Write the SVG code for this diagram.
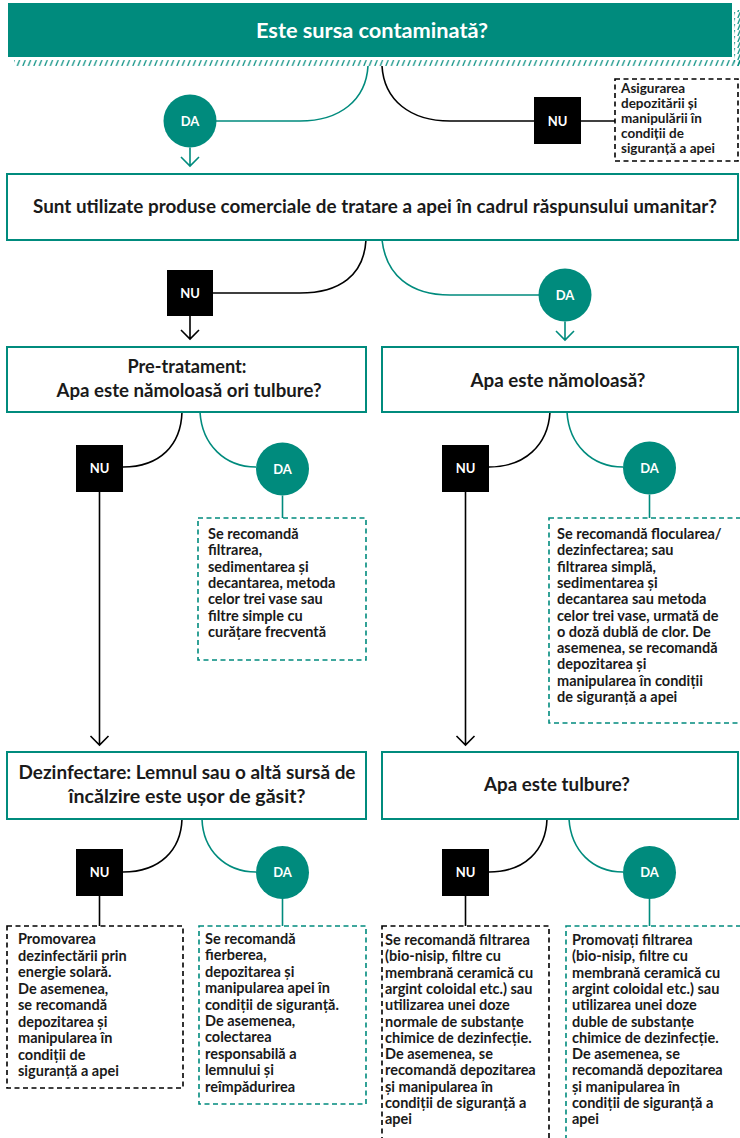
<svg xmlns="http://www.w3.org/2000/svg" width="740" height="1138" viewBox="0 0 740 1138">
  <style>
    .q { fill: #ffffff; stroke: #008b7d; stroke-width: 2; }
    .qt { font-family: Lato, "Liberation Sans", sans-serif; font-weight: 700; font-size: 18px; fill: #1a1a1a; text-anchor: middle; }
    .bt { font-family: Lato, "Liberation Sans", sans-serif; font-weight: 700; font-size: 14.5px; fill: #1a1a1a; }
    .bs { font-size: 13.5px; }
    .lbl { font-family: Lato, "Liberation Sans", sans-serif; font-weight: 700; font-size: 13px; fill: #ffffff; text-anchor: middle; }
    .nu { fill: #000000; }
    .da { fill: #008b7d; }
    .lk { fill: none; stroke: #000000; stroke-width: 1.6; }
    .lt { fill: none; stroke: #008b7d; stroke-width: 1.6; }
    .dk { fill: #ffffff; stroke: #000000; stroke-width: 1.6; stroke-dasharray: 5 3.5; }
    .dt { fill: #ffffff; stroke: #008b7d; stroke-width: 1.6; stroke-dasharray: 5 3.5; }
  </style>
  <defs>
    <pattern id="hatch" patternUnits="userSpaceOnUse" width="5.5" height="6">
      <line x1="0.8" y1="6" x2="3.2" y2="0" stroke="#008b7d" stroke-width="1.2"/>
    </pattern>
  </defs>

  <rect width="740" height="1138" fill="#ffffff"/>

  <!-- connectors -->
  <g id="connectors">
    <!-- header -->
    <path class="lt" d="M368,66 C366,100 340,121 300,121 L216,121"/>
    <path class="lt" d="M190,147.5 L190,166 M181,157 L190,166 L199,157"/>
    <path class="lk" d="M382,66 C384,100 410,121 450,121 L534,121"/>
    <path class="lk" d="M581,121 L615,121"/>
    <!-- commercial products question -->
    <path class="lk" d="M366,240 C364,275 340,293 300,293 L213,293"/>
    <path class="lk" d="M190,316 L190,339 M181,330 L190,339 L199,330"/>
    <path class="lt" d="M382,240 C386,275 410,295 450,295 L539,295"/>
    <path class="lt" d="M565,321.5 L565,340 M556,331 L565,340 L574,331"/>
    <!-- pre-treatment -->
    <path class="lk" d="M182,412 C181,445 160,467 123,467"/>
    <path class="lk" d="M99.5,492 L99.5,745 M90.5,736 L99.5,745 L108.5,736"/>
    <path class="lt" d="M200,412 C202,445 225,467 256,467"/>
    <path class="lt" d="M282.5,495.5 L282.5,518"/>
    <!-- muddy water -->
    <path class="lk" d="M550,412 C548,445 525,467 489,467"/>
    <path class="lk" d="M465.5,492 L465.5,745 M456.5,736 L465.5,745 L474.5,736"/>
    <path class="lt" d="M567,412 C569,445 592,467 623,467"/>
    <path class="lt" d="M649.5,494.5 L649.5,518"/>
    <!-- disinfection -->
    <path class="lk" d="M182,819 C181,850 160,872 123,872"/>
    <path class="lk" d="M99.5,896 L99.5,926"/>
    <path class="lt" d="M202,819 C203,850 225,872 256,872"/>
    <path class="lt" d="M282.5,899 L282.5,926"/>
    <!-- turbid water -->
    <path class="lk" d="M547,819 C546,850 525,872 489,872"/>
    <path class="lk" d="M465.5,896 L465.5,926"/>
    <path class="lt" d="M569,819 C571,850 592,872 623,872"/>
    <path class="lt" d="M649.5,899 L649.5,926"/>
  </g>

  <!-- header question -->
  <g id="q-source">
    <rect x="14" y="60" width="726" height="6" fill="url(#hatch)"/>
    <rect x="734" y="10" width="6" height="56" fill="url(#hatch)"/>
    <rect x="8" y="3" width="724" height="54" fill="#008b7d"/>
    <text x="372" y="38" class="qt" style="fill:#ffffff;font-size:21px" textLength="232" lengthAdjust="spacingAndGlyphs">Este sursa contaminată?</text>
  </g>

  <g id="da-source"><circle class="da" cx="190" cy="121" r="26.5"/><text class="lbl" x="190" y="125.5">DA</text></g>
  <g id="nu-source"><rect class="nu" x="534" y="97" width="47" height="47"/><text class="lbl" x="557.5" y="125.5">NU</text></g>
  <g id="r-safe-storage">
    <rect class="dk" x="615" y="79" width="123" height="82"/>
    <text class="bt bs" x="621" y="93">Asigurarea</text>
    <text class="bt bs" x="621" y="108">depozitării și</text>
    <text class="bt bs" x="621" y="123">manipulării în</text>
    <text class="bt bs" x="621" y="138">condiții de</text>
    <text class="bt bs" x="621" y="153">siguranță a apei</text>
  </g>

  <g id="q-commercial">
    <rect class="q" x="7" y="174" width="731" height="66"/>
    <text class="qt" x="375" y="213" textLength="684" lengthAdjust="spacingAndGlyphs">Sunt utilizate produse comerciale de tratare a apei în cadrul răspunsului umanitar?</text>
  </g>
  <g id="nu-commercial"><rect class="nu" x="167" y="270" width="46" height="46"/><text class="lbl" x="190" y="297.5">NU</text></g>
  <g id="da-commercial"><circle class="da" cx="565" cy="295" r="26.5"/><text class="lbl" x="565" y="299.5">DA</text></g>

  <g id="q-pretreatment">
    <rect class="q" x="7" y="347" width="359" height="65"/>
    <text class="qt" x="187" y="373" textLength="119" lengthAdjust="spacingAndGlyphs">Pre-tratament:</text>
    <text class="qt" x="189" y="397" textLength="265" lengthAdjust="spacingAndGlyphs">Apa este nămoloasă ori tulbure?</text>
  </g>
  <g id="nu-pretreatment"><rect class="nu" x="76" y="445" width="47" height="47"/><text class="lbl" x="99.5" y="473">NU</text></g>
  <g id="da-pretreatment"><circle class="da" cx="282.5" cy="469" r="26.5"/><text class="lbl" x="282.5" y="473.5">DA</text></g>
  <g id="r-filtration">
    <rect class="dt" x="198" y="518" width="168" height="142"/>
    <text class="bt" x="208" y="539">Se recomandă</text>
    <text class="bt" x="208" y="555.3">filtrarea,</text>
    <text class="bt" x="208" y="571.6">sedimentarea și</text>
    <text class="bt" x="208" y="587.9">decantarea, metoda</text>
    <text class="bt" x="208" y="604.2">celor trei vase sau</text>
    <text class="bt" x="208" y="620.5">filtre simple cu</text>
    <text class="bt" x="208" y="636.8">curățare frecventă</text>
  </g>

  <g id="q-muddy">
    <rect class="q" x="382" y="347" width="356" height="65"/>
    <text class="qt" x="558" y="387" textLength="175" lengthAdjust="spacingAndGlyphs">Apa este nămoloasă?</text>
  </g>
  <g id="nu-muddy"><rect class="nu" x="442" y="445" width="47" height="47"/><text class="lbl" x="465.5" y="473">NU</text></g>
  <g id="da-muddy"><circle class="da" cx="649.5" cy="468" r="26.5"/><text class="lbl" x="649.5" y="472.5">DA</text></g>
  <g id="r-flocculation">
    <rect class="dt" x="549" y="518" width="200" height="205"/>
    <text class="bt" x="557" y="539">Se recomandă flocularea/</text>
    <text class="bt" x="557" y="555.3">dezinfectarea; sau</text>
    <text class="bt" x="557" y="571.6">filtrarea simplă,</text>
    <text class="bt" x="557" y="587.9">sedimentarea și</text>
    <text class="bt" x="557" y="604.2">decantarea sau metoda</text>
    <text class="bt" x="557" y="620.5">celor trei vase, urmată de</text>
    <text class="bt" x="557" y="636.8">o doză dublă de clor. De</text>
    <text class="bt" x="557" y="653.1">asemenea, se recomandă</text>
    <text class="bt" x="557" y="669.4">depozitarea și</text>
    <text class="bt" x="557" y="685.7">manipularea în condiții</text>
    <text class="bt" x="557" y="702">de siguranță a apei</text>
  </g>

  <g id="q-disinfection">
    <rect class="q" x="7" y="752" width="359" height="67"/>
    <text class="qt" x="187" y="779" textLength="337" lengthAdjust="spacingAndGlyphs">Dezinfectare: Lemnul sau o altă sursă de</text>
    <text class="qt" x="187" y="803" textLength="237" lengthAdjust="spacingAndGlyphs">încălzire este ușor de găsit?</text>
  </g>
  <g id="nu-disinfection"><rect class="nu" x="76" y="849" width="47" height="47"/><text class="lbl" x="99.5" y="877">NU</text></g>
  <g id="da-disinfection"><circle class="da" cx="282.5" cy="872.5" r="26.5"/><text class="lbl" x="282.5" y="877">DA</text></g>
  <g id="r-solar">
    <rect class="dk" x="7" y="926" width="176" height="162"/>
    <text class="bt" x="18" y="944">Promovarea</text>
    <text class="bt" x="18" y="960.5">dezinfectării prin</text>
    <text class="bt" x="18" y="977">energie solară.</text>
    <text class="bt" x="18" y="993.5">De asemenea,</text>
    <text class="bt" x="18" y="1010">se recomandă</text>
    <text class="bt" x="18" y="1026.5">depozitarea și</text>
    <text class="bt" x="18" y="1043">manipularea în</text>
    <text class="bt" x="18" y="1059.5">condiții de</text>
    <text class="bt" x="18" y="1076">siguranță a apei</text>
  </g>
  <g id="r-boiling">
    <rect class="dt" x="199" y="926" width="167" height="178"/>
    <text class="bt" x="205" y="944">Se recomandă</text>
    <text class="bt" x="205" y="960.4">fierberea,</text>
    <text class="bt" x="205" y="976.8">depozitarea și</text>
    <text class="bt" x="205" y="993.2">manipularea apei în</text>
    <text class="bt" x="205" y="1009.6">condiții de siguranță.</text>
    <text class="bt" x="205" y="1026">De asemenea,</text>
    <text class="bt" x="205" y="1042.4">colectarea</text>
    <text class="bt" x="205" y="1058.8">responsabilă a</text>
    <text class="bt" x="205" y="1075.2">lemnului și</text>
    <text class="bt" x="205" y="1091.6">reîmpădurirea</text>
  </g>

  <g id="q-turbid">
    <rect class="q" x="382" y="752" width="356" height="67"/>
    <text class="qt" x="557" y="791" textLength="146" lengthAdjust="spacingAndGlyphs">Apa este tulbure?</text>
  </g>
  <g id="nu-turbid"><rect class="nu" x="442" y="849" width="47" height="47"/><text class="lbl" x="465.5" y="877">NU</text></g>
  <g id="da-turbid"><circle class="da" cx="649.5" cy="872.5" r="26.5"/><text class="lbl" x="649.5" y="877">DA</text></g>
  <g id="r-filter-normal">
    <rect class="dk" x="382" y="926" width="167" height="230"/>
    <text class="bt" x="385" y="945">Se recomandă filtrarea</text>
    <text class="bt" x="385" y="961.3">(bio-nisip, filtre cu</text>
    <text class="bt" x="385" y="977.6">membrană ceramică cu</text>
    <text class="bt" x="385" y="993.9">argint coloidal etc.) sau</text>
    <text class="bt" x="385" y="1010.2">utilizarea unei doze</text>
    <text class="bt" x="385" y="1026.5">normale de substanțe</text>
    <text class="bt" x="385" y="1042.8">chimice de dezinfecție.</text>
    <text class="bt" x="385" y="1059.1">De asemenea, se</text>
    <text class="bt" x="385" y="1075.4">recomandă depozitarea</text>
    <text class="bt" x="385" y="1091.7">și manipularea în</text>
    <text class="bt" x="385" y="1108">condiții de siguranță a</text>
    <text class="bt" x="385" y="1124.3">apei</text>
  </g>
  <g id="r-filter-double">
    <rect class="dt" x="566" y="926" width="200" height="230"/>
    <text class="bt" x="572" y="945">Promovați filtrarea</text>
    <text class="bt" x="572" y="961.3">(bio-nisip, filtre cu</text>
    <text class="bt" x="572" y="977.6">membrană ceramică cu</text>
    <text class="bt" x="572" y="993.9">argint coloidal etc.) sau</text>
    <text class="bt" x="572" y="1010.2">utilizarea unei doze</text>
    <text class="bt" x="572" y="1026.5">duble de substanțe</text>
    <text class="bt" x="572" y="1042.8">chimice de dezinfecție.</text>
    <text class="bt" x="572" y="1059.1">De asemenea, se</text>
    <text class="bt" x="572" y="1075.4">recomandă depozitarea</text>
    <text class="bt" x="572" y="1091.7">și manipularea în</text>
    <text class="bt" x="572" y="1108">condiții de siguranță a</text>
    <text class="bt" x="572" y="1124.3">apei</text>
  </g>
</svg>
